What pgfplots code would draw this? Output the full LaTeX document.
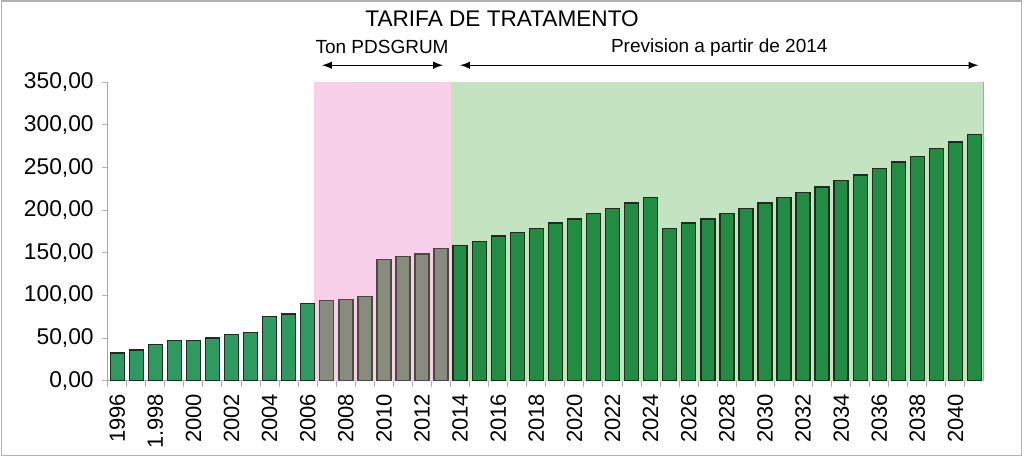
\documentclass[border=0pt]{standalone}
\usepackage{pgfplots}
\pgfplotsset{compat=1.18}
\usepackage{fontspec}
\setmainfont{Liberation Sans}
\definecolor{barA}{HTML}{2E9A62}
\definecolor{barB}{HTML}{878C7E}
\definecolor{barC}{HTML}{228C45}
\definecolor{edgeC}{HTML}{1B2E1E}
\definecolor{pinkbg}{HTML}{F7CFE8}
\definecolor{greenbg}{HTML}{C4E4C1}
\begin{document}
\begin{tikzpicture}[x=1pt,y=1pt]
\useasboundingbox (0,0) rectangle (512,229.5);
\draw[gray!60, line width=0.6pt] (0.6,1.8) rectangle (510.6,229);
\begin{axis}[
  at={(53.85pt,39.15pt)}, anchor=south west,
  scale only axis, width=437.8pt, height=149.2pt,
  xmin=1995.5, xmax=2041.46, ymin=0, ymax=350,
  clip=false,
  axis x line*=bottom, axis y line*=left,
  axis line style={gray!70, line width=0.6pt},
  xtick={1996,1998,...,2040},
  xticklabels={1996,1.998,2000,2002,2004,2006,2008,2010,2012,2014,2016,2018,2020,2022,2024,2026,2028,2030,2032,2034,2036,2038,2040},
  major x tick style={draw=none},
  minor xtick={1995.5,1996.5,...,2041.5},
  minor x tick style={gray!60, line width=0.5pt},
  minor tick length=3pt,
  tick align=outside,
  x tick label style={rotate=90, anchor=east, font=\fontsize{11}{12}\selectfont},
  ytick={0,50,...,350},
  yticklabels={{0,00},{50,00},{100,00},{150,00},{200,00},{250,00},{300,00},{350,00}},
  y tick label style={font=\fontsize{11.4}{12}\selectfont, xshift=-0.5pt},
  major y tick style={gray!60, line width=0.5pt},
  major tick length=3pt,
  /pgf/number format/assume math mode=true,
]
\addplot[fill=pinkbg, draw=none] coordinates {(2006.31,0) (2006.31,350) (2013.54,350) (2013.54,0)} -- cycle;
\addplot[fill=greenbg, draw=none] coordinates {(2013.54,0) (2013.54,350) (2041.46,350) (2041.46,0)} -- cycle;
\addplot[ybar, bar width=7pt, bar shift=0pt, fill=barA, draw=edgeC, line width=0.7pt] coordinates {
(1996,32.7) (1997,36.2) (1998,42.5) (1999,47.1) (2000,47.1) (2001,50.3)
(2002,54.5) (2003,56.5) (2004,75.2) (2005,78.3) (2006,90.8)};
\addplot[ybar, bar width=7pt, bar shift=0pt, fill=barB, draw=edgeC!80!pink, line width=0.7pt] coordinates {
(2007,93.9) (2008,95.4) (2009,98.6) (2010,142.2) (2011,145.7) (2012,148.4) (2013,154.7)};
\addplot[ybar, bar width=7pt, bar shift=0pt, fill=barC, draw=edgeC, line width=0.7pt] coordinates {
(2014,158.8) (2015,163.2) (2016,169.5) (2017,174.1) (2018,178.8) (2019,185.0)
(2020,189.7) (2021,196.0) (2022,202.2) (2023,208.4) (2024,214.6) (2025,178.8)
(2026,185.0) (2027,189.7) (2028,196.0) (2029,202.2) (2030,208.4) (2031,214.6)
(2032,220.9) (2033,227.1) (2034,234.9) (2035,241.1) (2036,248.9) (2037,256.7)
(2038,263.0) (2039,272.3) (2040,280.1) (2041,289.0)};
\draw[gray!70, line width=0.6pt] (rel axis cs:1,0) -- (rel axis cs:1,1);
\draw[<->, >=latex, line width=0.7pt] (axis cs:2006.75,370) -- (axis cs:2013.1,370);
\draw[<->, >=latex, line width=0.7pt] (axis cs:2014.0,370) -- (axis cs:2041.2,370);
\node[font=\fontsize{9.5}{12}\selectfont] at (axis cs:2009.9,391) {Ton PDSGRUM};
\node[font=\fontsize{9.5}{12}\selectfont] at (axis cs:2027.6,391) {Prevision a partir de 2014};
\node[font=\fontsize{11.3}{13}\selectfont] at (axis cs:2016.2,425) {TARIFA DE TRATAMENTO};
\end{axis}
\end{tikzpicture}
\end{document}
